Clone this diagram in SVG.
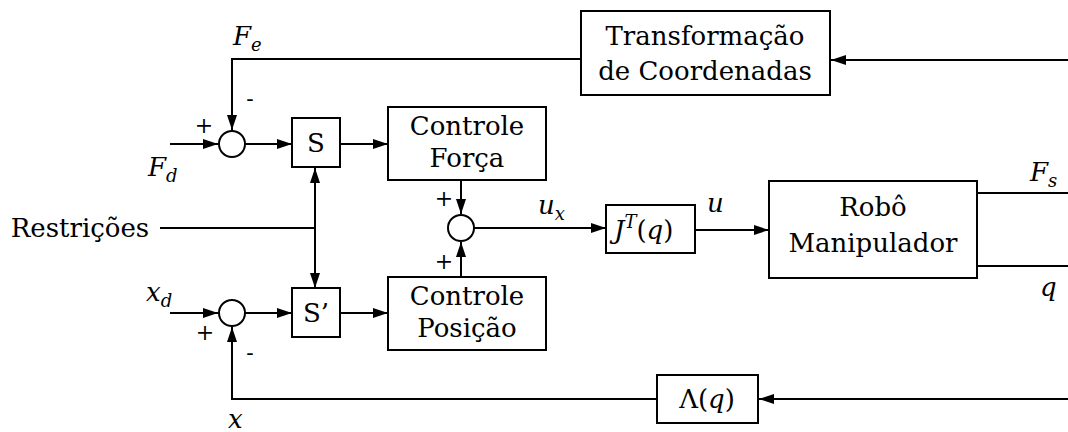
<svg xmlns="http://www.w3.org/2000/svg" width="1068" height="432" viewBox="0 0 1068 432">
<style>
.box{fill:#fff;stroke:#000;stroke-width:2}
.sum{fill:#fff;stroke:#000;stroke-width:2}
.ln{fill:none;stroke:#000;stroke-width:2}
.t{font-family:'DejaVu Serif',serif;font-size:26px;fill:#000;text-anchor:middle}
.m{font-family:'DejaVu Serif',serif;font-size:26px;font-style:italic;fill:#000}
.sub{font-size:18px}
.sg{font-family:'DejaVu Serif',serif;font-size:22px;fill:#000;text-anchor:middle}
</style>
<defs>
<marker id="ar" markerUnits="userSpaceOnUse" markerWidth="16" markerHeight="10" refX="15" refY="5" orient="auto">
<path d="M0,0 L15,5 L0,10 z" fill="#000"/>
</marker>
</defs>
<g id="connectors">
<path class="ln" d="M170 144 H218" marker-end="url(#ar)"/>
<path class="ln" d="M581 59 H232 V130" marker-end="url(#ar)"/>
<path class="ln" d="M1068 60 H831" marker-end="url(#ar)"/>
<path class="ln" d="M245 144 H292" marker-end="url(#ar)"/>
<path class="ln" d="M340 144 H388" marker-end="url(#ar)"/>
<path class="ln" d="M160 228 H315"/>
<path class="ln" d="M315 228 V168" marker-end="url(#ar)"/>
<path class="ln" d="M315 228 V288" marker-end="url(#ar)"/>
<path class="ln" d="M461 180 V214" marker-end="url(#ar)"/>
<path class="ln" d="M461 277 V242" marker-end="url(#ar)"/>
<path class="ln" d="M474 228 H606" marker-end="url(#ar)"/>
<path class="ln" d="M695 230 H769" marker-end="url(#ar)"/>
<path class="ln" d="M977 193 H1068"/>
<path class="ln" d="M977 266 H1068"/>
<path class="ln" d="M1068 399 H759" marker-end="url(#ar)"/>
<path class="ln" d="M657 399 H232 V327" marker-end="url(#ar)"/>
<path class="ln" d="M170 313 H218" marker-end="url(#ar)"/>
<path class="ln" d="M245 313 H292" marker-end="url(#ar)"/>
<path class="ln" d="M340 313 H388" marker-end="url(#ar)"/>
</g>
<g id="transf">
<rect class="box" x="581" y="11" width="249" height="84"/>
<text class="t" x="705" y="45">Transformação</text>
<text class="t" x="705" y="80">de Coordenadas</text>
</g>
<g id="sum1"><circle class="sum" cx="232" cy="144" r="13"/></g>
<g id="sum2"><circle class="sum" cx="461" cy="228" r="13"/></g>
<g id="sum3"><circle class="sum" cx="232" cy="313" r="13"/></g>
<g id="S">
<rect class="box" x="292" y="118" width="48" height="49"/>
<text class="t" x="316" y="152">S</text>
</g>
<g id="Sp">
<rect class="box" x="292" y="288" width="48" height="49"/>
<text class="t" x="316" y="322">S’</text>
</g>
<g id="forca">
<rect class="box" x="388" y="107" width="158" height="73"/>
<text class="t" x="467" y="135">Controle</text>
<text class="t" x="467" y="167">Força</text>
</g>
<g id="posicao">
<rect class="box" x="388" y="277" width="158" height="73"/>
<text class="t" x="467" y="305">Controle</text>
<text class="t" x="467" y="337">Posição</text>
</g>
<g id="jt">
<rect class="box" x="606" y="205" width="89" height="48"/>
<text class="m" x="614" y="239">J<tspan class="sub" dy="-11">T</tspan><tspan dy="11" font-style="normal">(</tspan>q<tspan font-style="normal">)</tspan></text>
</g>
<g id="robo">
<rect class="box" x="769" y="181" width="208" height="97"/>
<text class="t" x="873" y="216">Robô</text>
<text class="t" x="873" y="252">Manipulador</text>
</g>
<g id="lambda">
<rect class="box" x="657" y="375" width="101" height="48"/>
<text class="t" x="707" y="408">Λ(<tspan font-style="italic">q</tspan>)</text>
</g>
<g id="labels">
<text class="m" x="233" y="45">F<tspan class="sub" dy="6">e</tspan></text>
<text class="m" x="148" y="176">F<tspan class="sub" dy="6">d</tspan></text>
<text class="m" x="146" y="301">x<tspan class="sub" dy="6">d</tspan></text>
<text class="m" x="538" y="214">u<tspan class="sub" dy="6">x</tspan></text>
<text class="m" x="707" y="212">u</text>
<text class="m" x="1030" y="181">F<tspan class="sub" dy="6">s</tspan></text>
<text class="m" x="1040" y="296">q</text>
<text class="m" x="228" y="428">x</text>
<text class="t" x="80" y="237">Restrições</text>
<text class="sg" x="204" y="133">+</text>
<text class="sg" x="250" y="106">-</text>
<text class="sg" x="444" y="206">+</text>
<text class="sg" x="444" y="269">+</text>
<text class="sg" x="205" y="340">+</text>
<text class="sg" x="250" y="360">-</text>
</g>
</svg>
